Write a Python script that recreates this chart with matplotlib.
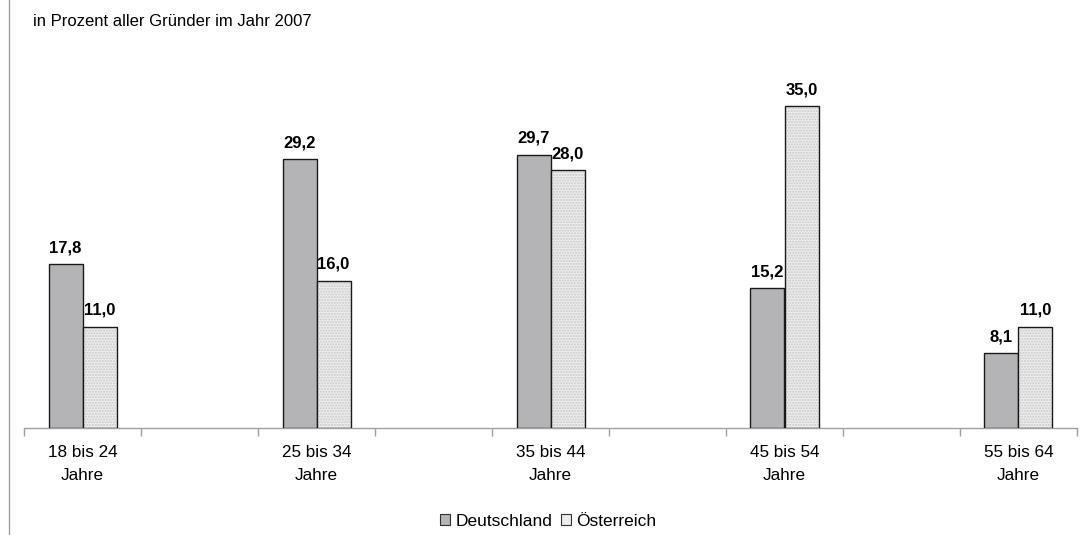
import matplotlib
matplotlib.use("Agg")
import matplotlib.pyplot as plt
from matplotlib.patches import Patch
from matplotlib.lines import Line2D

plt.rcParams['font.family'] = ['Liberation Sans', 'DejaVu Sans']

categories = ["18 bis 24\nJahre", "25 bis 34\nJahre", "35 bis 44\nJahre",
              "45 bis 54\nJahre", "55 bis 64\nJahre"]
deutschland = [17.8, 29.2, 29.7, 15.2, 8.1]
oesterreich = [11.0, 16.0, 28.0, 35.0, 11.0]
series_names = ["Deutschland", "Österreich"]
subtitle = "in Prozent aller Gründer im Jahr 2007"

W, H = 1082, 535
fig = plt.figure(figsize=(W / 100, H / 100), dpi=100)
ax = fig.add_axes([24 / W, (H - 428) / H, (1077 - 24) / W, 368 / H])

# groups sit on every other slot of a 9-slot category axis
pos = [2 * i for i in range(len(categories))]
bw = 34 / 117
c_de = "#B4B4B6"
c_at = "#EDEDED"

xd = [p - bw / 2 for p in pos]
xa = [p + bw / 2 for p in pos]
ax.bar(xd, deutschland, width=bw, color=c_de, edgecolor="#1A1A1A", linewidth=1.0, zorder=3)
ax.bar(xa, oesterreich, width=bw, color=c_at, edgecolor="#C8C8C8", linewidth=0,
       hatch="......", zorder=3)
ax.bar(xa, oesterreich, width=bw, color="none", edgecolor="#1A1A1A", linewidth=1.0, zorder=4)

def fmt(v):
    return f"{v:.1f}".replace(".", ",")

for xs, vals in ((xd, deutschland), (xa, oesterreich)):
    for x, v in zip(xs, vals):
        ax.annotate(fmt(v), (x, v), xytext=(0, 8.5), textcoords="offset points",
                    ha="center", va="baseline", fontsize=12, fontweight="bold")

ax.set_xlim(-0.5, 8.5)
ax.set_ylim(0, 40)
for s in ["top", "right", "left"]:
    ax.spines[s].set_visible(False)
ax.spines["bottom"].set_color("#A0A0A0")
ax.spines["bottom"].set_linewidth(1.0)
ax.set_yticks([])
ax.set_xticks([k - 0.5 for k in range(10)])
ax.set_xticklabels([])
ax.tick_params(axis="x", length=6, color="#A0A0A0", width=1.0)
ax.set_xticks(pos, minor=True)
ax.set_xticklabels(categories, minor=True, fontsize=12.3, linespacing=1.65)
ax.tick_params(axis="x", which="minor", length=0, pad=12.5)

fig.text(33 / W, 1 - 22 / H, subtitle, fontsize=12, va="center", ha="left")

# frame line on the left
fig.add_artist(Line2D([9 / W, 9 / W], [0, 1], transform=fig.transFigure,
                      color="#A0A0A0", linewidth=1.0))

handles = [Patch(facecolor=c_de, edgecolor="#333333", linewidth=0.8),
           Patch(facecolor=c_at, edgecolor="#333333", linewidth=0.8)]
fig.legend(handles, series_names, loc="center", bbox_to_anchor=(548 / W, 1 - 521 / H),
           ncol=2, frameon=False, fontsize=12.5, handlelength=0.6, handleheight=0.6,
           handletextpad=0.3, columnspacing=0.5)

fig.savefig("out.png", dpi=100, facecolor="white")
